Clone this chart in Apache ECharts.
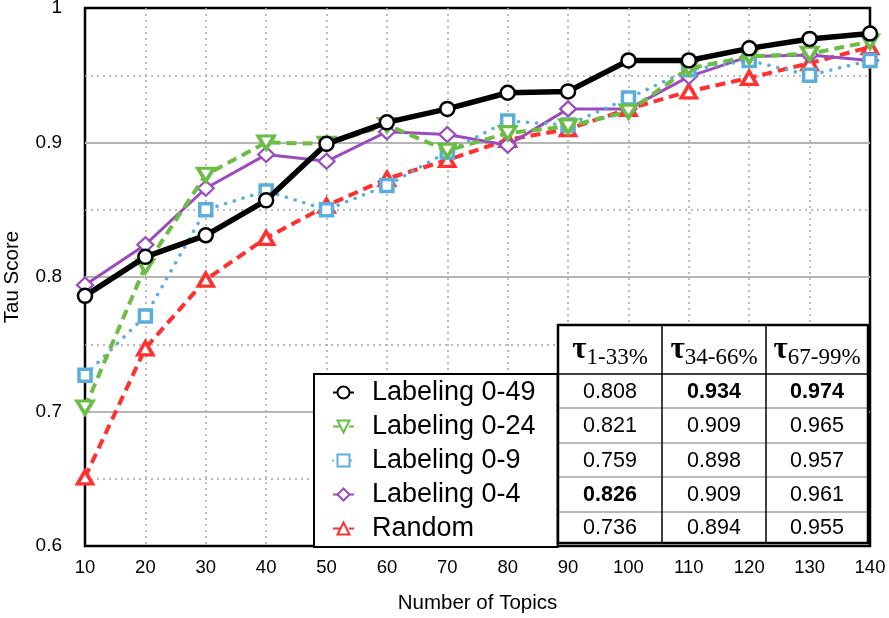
<!DOCTYPE html>
<html>
<head>
<meta charset="utf-8">
<script src="https://cdn.jsdelivr.net/npm/echarts@6/dist/echarts.min.js"></script>
<style>
html,body{margin:0;padding:0;background:#fff;}
#chart{width:889px;height:618px;}
</style>
</head>
<body>
<div id="chart"></div>
<script>
// ---- data ----
var topics = [10, 20, 30, 40, 50, 60, 70, 80, 90, 100, 110, 120, 130, 140];
var labeling49 = [0.786, 0.815, 0.831, 0.857, 0.899, 0.915, 0.925, 0.937, 0.938, 0.961, 0.961, 0.970, 0.977, 0.981];
var labeling24 = [0.703, 0.808, 0.876, 0.900, 0.899, 0.913, 0.894, 0.907, 0.912, 0.923, 0.955, 0.964, 0.966, 0.975];
var labeling9  = [0.727, 0.771, 0.850, 0.864, 0.850, 0.868, 0.893, 0.916, 0.913, 0.933, 0.954, 0.961, 0.950, 0.961];
var labeling4  = [0.794, 0.824, 0.866, 0.891, 0.886, 0.908, 0.906, 0.898, 0.925, 0.925, 0.949, 0.964, 0.965, 0.961];
var randomSel  = [0.651, 0.747, 0.798, 0.829, 0.853, 0.873, 0.887, 0.902, 0.910, 0.925, 0.938, 0.948, 0.959, 0.971];

var seriesNames = ['Labeling 0-49', 'Labeling 0-24', 'Labeling 0-9', 'Labeling 0-4', 'Random'];
var tableHeaders = ['1-33%', '34-66%', '67-99%'];
var tauLow  = [0.808, 0.821, 0.759, 0.826, 0.736];
var tauMid  = [0.934, 0.909, 0.898, 0.909, 0.894];
var tauHigh = [0.974, 0.965, 0.957, 0.961, 0.955];
var boldCells = [[0, 1], [0, 2], [3, 0]]; // [row, col]

function pairs(vals) { return topics.map(function (t, i) { return [t, vals[i]]; }); }

var FONT = "'Liberation Sans', Arial, Helvetica, sans-serif";
var SERIF = "'Liberation Serif', 'Times New Roman', serif";

// ---- table graphic ----
var T = { left: 558, top: 325, right: 868, bottom: 543, cols: [558, 662, 766, 868], headBottom: 374, rows: [374, 408, 443, 477, 512, 543] };
var gfx = [];
gfx.push({ type: 'rect', z: 100, shape: { x: T.left, y: T.top, width: T.right - T.left, height: T.bottom - T.top }, style: { fill: '#fff', stroke: null } });
for (var r = 1; r < T.rows.length - 1; r++) {
  gfx.push({ type: 'line', z: 101, shape: { x1: T.left, y1: T.rows[r], x2: T.right, y2: T.rows[r] }, style: { stroke: '#a0a0a0', lineWidth: 1.5 } });
}
gfx.push({ type: 'line', z: 102, shape: { x1: T.left, y1: T.headBottom, x2: T.right, y2: T.headBottom }, style: { stroke: '#000', lineWidth: 1.5 } });
for (var c = 1; c < 3; c++) {
  gfx.push({ type: 'line', z: 102, shape: { x1: T.cols[c], y1: T.top, x2: T.cols[c], y2: T.bottom }, style: { stroke: '#000', lineWidth: 1.5 } });
}
gfx.push({ type: 'rect', z: 103, shape: { x: T.left, y: T.top, width: T.right - T.left, height: T.bottom - T.top }, style: { fill: null, stroke: '#000', lineWidth: 2.5 } });
var cols = [tauLow, tauMid, tauHigh];
for (var c2 = 0; c2 < 3; c2++) {
  var cx = (T.cols[c2] + T.cols[c2 + 1]) / 2;
  gfx.push({
    type: 'text', z: 104, x: cx, y: (T.top + T.headBottom) / 2,
    style: {
      text: '{t|τ}{s|' + tableHeaders[c2] + '}',
      align: 'center', verticalAlign: 'middle',
      rich: {
        t: { fontFamily: SERIF, fontSize: 31, fontWeight: 'bold', fill: '#000', verticalAlign: 'bottom' },
        s: { fontFamily: SERIF, fontSize: 23, fill: '#000', verticalAlign: 'bottom', padding: [0, 0, -4, 0] }
      }
    }
  });
  for (var r2 = 0; r2 < 5; r2++) {
    var isBold = boldCells.some(function (b) { return b[0] === r2 && b[1] === c2; });
    gfx.push({
      type: 'text', z: 104, x: cx, y: (T.rows[r2] + T.rows[r2 + 1]) / 2 + 1,
      style: { text: cols[c2][r2].toFixed(3), align: 'center', verticalAlign: 'middle', fontFamily: FONT, fontSize: 21.5, fontWeight: isBold ? 'bold' : 'normal', fill: '#000' }
    });
  }
}

var chart = echarts.init(document.getElementById('chart'), null, { renderer: 'canvas' });
var option = {
  animation: false,
  backgroundColor: '#fff',
  textStyle: { fontFamily: FONT },
  grid: { left: 85, right: 19, top: 8, bottom: 72, containLabel: false, outerBoundsMode: 'none', show: true, borderColor: '#000', borderWidth: 2.5, backgroundColor: 'transparent' },
  legend: {
    data: seriesNames,
    orient: 'vertical',
    left: 314, top: 374,
    backgroundColor: '#fff', borderColor: '#000', borderWidth: 2,
    padding: [5, 22, 5, 18],
    itemGap: 7, itemWidth: 21, itemHeight: 15,
    z: 50,
    textStyle: { fontFamily: FONT, fontSize: 27, lineHeight: 27, color: '#000', padding: [0, 0, 0, 13] }
  },
  xAxis: {
    type: 'value', min: 10, max: 140, interval: 10,
    name: 'Number of Topics', nameLocation: 'middle', nameGap: 47,
    nameTextStyle: { fontFamily: FONT, fontSize: 20.5, color: '#000' },
    axisLine: { show: false }, axisTick: { show: false },
    axisLabel: { fontFamily: FONT, fontSize: 18.5, color: '#000', margin: 12 },
    splitLine: { show: true, showMinLine: false, showMaxLine: false, lineStyle: { color: '#a8a8a8', width: 1.5, type: [2, 4] } }
  },
  yAxis: {
    type: 'value', min: 0.6, max: 1, interval: 0.1,
    name: 'Tau Score', nameLocation: 'middle', nameGap: 62, nameRotate: 90,
    nameTextStyle: { fontFamily: FONT, fontSize: 20.5, color: '#000' },
    axisLine: { show: false }, axisTick: { show: false },
    axisLabel: { fontFamily: FONT, fontSize: 19, color: '#000', margin: 23, formatter: function (v) { return Math.abs(v - 1) < 1e-9 ? '1' : v.toFixed(1); } },
    splitLine: { show: true, showMinLine: false, showMaxLine: false, lineStyle: { color: '#b5b5b5', width: 2 } },
    minorTick: { show: false, splitNumber: 2 },
    minorSplitLine: { show: true, lineStyle: { color: '#a8a8a8', width: 1.5, type: [2, 4] } }
  },
  series: [
    {
      name: 'Random', type: 'line', data: pairs(randomSel), z: 3,
      lineStyle: { color: '#ff3030', width: 4, type: [10, 6] },
      symbol: 'triangle', symbolSize: [15, 13],
      itemStyle: { color: '#fff', borderColor: '#ff3030', borderWidth: 3.5 }
    },
    {
      name: 'Labeling 0-4', type: 'line', data: pairs(labeling4), z: 4,
      lineStyle: { color: '#9a4bbd', width: 3, type: 'solid' },
      symbol: 'diamond', symbolSize: [16, 15],
      itemStyle: { color: '#fff', borderColor: '#9a4bbd', borderWidth: 2.2 }
    },
    {
      name: 'Labeling 0-9', type: 'line', data: pairs(labeling9), z: 5,
      lineStyle: { color: '#5badde', width: 3.5, type: [0.1, 9], cap: 'round' },
      symbol: 'rect', symbolSize: 12,
      itemStyle: { color: '#fff', borderColor: '#5badde', borderWidth: 3.5 }
    },
    {
      name: 'Labeling 0-24', type: 'line', data: pairs(labeling24), z: 6,
      lineStyle: { color: '#6cbd45', width: 4, type: [10, 6] },
      symbol: 'triangle', symbolRotate: 180, symbolSize: [16, 13],
      itemStyle: { color: '#fff', borderColor: '#6cbd45', borderWidth: 3.5 }
    },
    {
      name: 'Labeling 0-49', type: 'line', data: pairs(labeling49), z: 7,
      lineStyle: { color: '#000', width: 5.5, type: 'solid' },
      symbol: 'circle', symbolSize: 14,
      itemStyle: { color: '#fff', borderColor: '#000', borderWidth: 2.5 }
    }
  ],
  graphic: gfx
};
chart.setOption(option);
</script>
</body>
</html>
